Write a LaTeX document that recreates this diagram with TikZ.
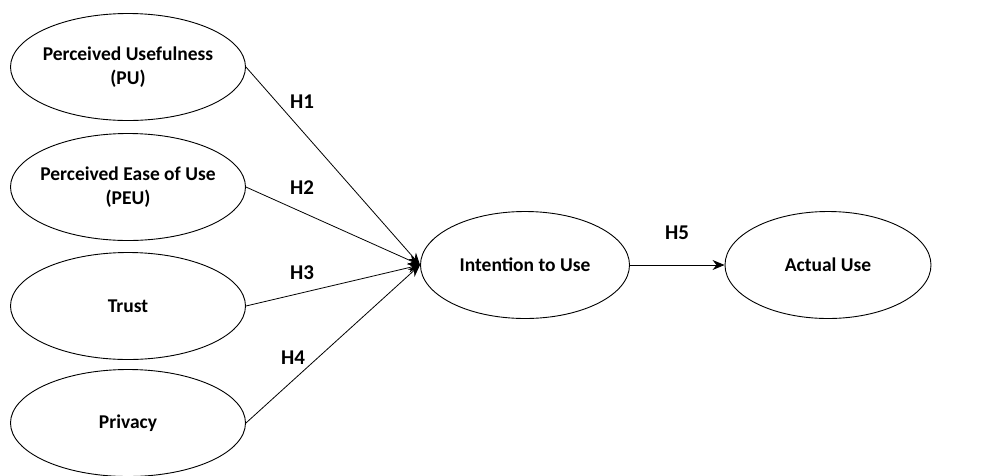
\documentclass[tikz,border=0pt]{standalone}
\usepackage{fontspec}
\setmainfont{Carlito}
\usetikzlibrary{shapes.geometric,arrows.meta}
\begin{document}
\begin{tikzpicture}[x=1pt,y=-1pt,
  construct/.style={draw=black, line width=0.9pt, ellipse, inner xsep=-30pt, inner ysep=-10pt,
    minimum width=235pt, minimum height=107pt, align=center,
    font=\fontsize{19.5}{24}\selectfont\bfseries},
  hyp/.style={font=\fontsize{21}{24}\selectfont\bfseries},
  link/.style={draw=black, line width=0.8pt, -{Stealth[length=12pt,width=10pt]}}]
\useasboundingbox (0,0) rectangle (983,475);
\node[construct] (pu) at (128,67) {Perceived Usefulness\\(PU)};
\node[construct] (peu) at (128,187) {Perceived Ease of Use\\(PEU)};
\node[construct] (tr) at (128,306) {Trust};
\node[construct] (pr) at (128,423) {Privacy};
\node[construct, minimum width=209pt] (it) at (525,265) {Intention to Use};
\node[construct, minimum width=206pt] (au) at (828,265) {Actual Use};
\draw[link] (pu.east) -- (it.west);
\draw[link] (peu.east) -- (it.west);
\draw[link] (tr.east) -- (it.west);
\draw[link] (pr.east) -- (it.west);
\draw[link] (it.east) -- (au.west);
\node[hyp] (h1) at (302,102) {H1};
\node[hyp] (h2) at (302,188) {H2};
\node[hyp] (h3) at (302,273) {H3};
\node[hyp] (h4) at (293,358) {H4};
\node[hyp] (h5) at (677,233) {H5};
\end{tikzpicture}
\end{document}
